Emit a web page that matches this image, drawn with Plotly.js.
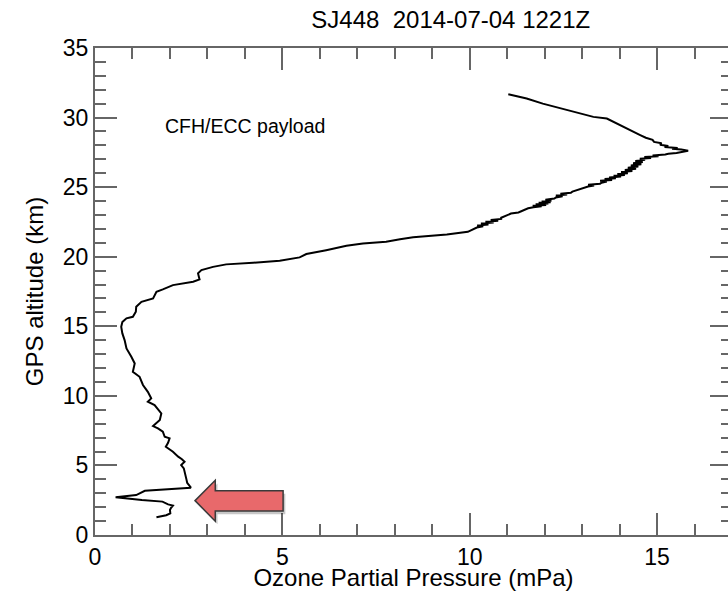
<!DOCTYPE html>
<html>
<head>
<meta charset="utf-8">
<script src="https://cdn.plot.ly/plotly-3.0.1.min.js"></script>
<style>
  html, body { margin: 0; padding: 0; background: #fff; overflow: hidden; }
  #chart { width: 740px; height: 591px; }
</style>
</head>
<body>
<div id="chart"></div>
<script>
// Ozonesonde profile SJ448, 2014-07-04 1221Z (CFH/ECC payload)
const chartTitle = 'SJ448\u00a0\u00a02014-07-04 1221Z';
const xTitle = 'Ozone Partial Pressure (mPa)';
const yTitle = 'GPS altitude (km)';
const payloadLabel = 'CFH/ECC payload';

// Ozone partial pressure (mPa), ascending order of altitude
const ozoneMPa = [
  1.64, 1.90, 2.01, 2.00, 2.03, 2.08, 1.95, 1.80, 1.25, 0.55,
  1.10, 1.26, 1.33, 2.56, 2.50, 2.46, 2.44, 2.42, 2.40, 2.37,
  2.30, 2.39, 2.32, 2.22, 2.08, 1.89, 1.95, 1.99, 1.86, 1.81,
  1.68, 1.55, 1.73, 1.77, 1.59, 1.41, 1.50, 1.41, 1.28, 1.19,
  1.01, 1.06, 0.97, 0.84, 0.79, 0.73, 0.70, 0.73, 0.79, 0.84,
  1.01, 1.09, 1.10, 1.24, 1.55, 1.64, 1.81, 2.08, 2.62, 2.79,
  2.75, 2.84, 3.15, 3.50, 4.22, 4.93, 5.46, 5.64, 6.17, 6.71,
  7.15, 7.77, 8.14, 8.49, 9.39, 9.95,
  10.19, 10.36, 10.20, 10.50, 10.30, 10.64, 10.42, 10.76, 10.56, 10.84,
  10.84, 10.93, 11.02, 11.10, 11.30, 11.40, 11.47, 11.56, 11.70, 11.92,
  11.68, 12.04, 11.76, 12.10, 11.84, 12.16, 11.92, 12.18, 12.02, 12.26,
  12.30, 12.48, 12.30, 12.60, 12.42, 12.70, 12.74, 12.84, 12.94, 13.02,
  13.16, 13.32, 13.16, 13.48, 13.52, 13.66, 13.48, 13.80, 13.60, 13.90,
  13.72, 14.04, 13.84, 14.14, 13.94, 14.22, 14.04, 14.34, 14.14, 14.44,
  14.22, 14.50, 14.30, 14.58, 14.36, 14.62, 14.42, 14.68, 14.54, 14.84,
  14.66, 15.04, 14.88, 15.22, 15.30, 15.52, 15.62, 15.83,
  15.65, 15.40, 15.55, 15.20, 15.30, 15.08, 15.12, 14.92, 14.88, 14.70,
  14.55, 14.28, 14.01, 13.84, 13.66, 13.30, 12.85, 12.41, 11.95, 11.52,
  11.03
];

// GPS altitude (km) matching each ozone value
const altitudeKm = [
  1.27, 1.42, 1.55, 1.80, 1.95, 2.12, 2.20, 2.40, 2.52, 2.72,
  2.87, 3.08, 3.18, 3.40, 3.60, 3.75, 4.00, 4.26, 4.50, 4.79,
  5.03, 5.27, 5.45, 5.63, 5.98, 6.34, 6.63, 6.95, 7.06, 7.42,
  7.66, 7.83, 8.26, 8.74, 9.34, 9.58, 9.82, 10.29, 10.78, 11.37,
  11.73, 12.33, 12.81, 13.41, 14.01, 14.49, 14.96, 15.30, 15.45, 15.57,
  15.68, 16.04, 16.40, 16.76, 17.00, 17.48, 17.65, 17.96, 18.20, 18.37,
  18.80, 19.04, 19.27, 19.45, 19.56, 19.71, 19.95, 20.19, 20.47, 20.78,
  20.95, 21.07, 21.25, 21.40, 21.60, 21.79,
  22.10, 22.18, 22.24, 22.32, 22.38, 22.45, 22.52, 22.58, 22.64, 22.72,
  22.80, 22.90, 23.00, 23.10, 23.18, 23.28, 23.38, 23.48, 23.56, 23.62,
  23.67, 23.72, 23.77, 23.82, 23.87, 23.92, 23.97, 24.03, 24.10, 24.18,
  24.26, 24.34, 24.40, 24.47, 24.53, 24.60, 24.68, 24.76, 24.86, 24.95,
  25.05, 25.12, 25.18, 25.25, 25.32, 25.40, 25.46, 25.52, 25.58, 25.64,
  25.70, 25.76, 25.82, 25.88, 25.94, 26.00, 26.08, 26.16, 26.24, 26.32,
  26.40, 26.48, 26.56, 26.64, 26.72, 26.80, 26.88, 26.96, 27.04, 27.10,
  27.16, 27.22, 27.28, 27.34, 27.40, 27.46, 27.52, 27.61,
  27.70, 27.76, 27.82, 27.88, 27.95, 28.05, 28.15, 28.25, 28.40, 28.55,
  28.74, 29.10, 29.45, 29.70, 29.93, 30.05, 30.35, 30.65, 31.00, 31.37,
  31.68
];

const FONT = 'Liberation Sans, Arial, Helvetica, sans-serif';
const AXIS_GREY = '#666666';
const X_RANGE = [0, 17];
const Y_RANGE = [0, 35];

// shared styling for the four frame axes (ticks point into the plot)
function frameAxis(extra) {
  return Object.assign({
    showline: true,
    linecolor: AXIS_GREY,
    linewidth: 2,
    ticks: 'inside',
    ticklen: 22,
    tickwidth: 2,
    tickcolor: AXIS_GREY,
    showgrid: false,
    zeroline: false,
    tick0: 0,
    dtick: 5,
    tickfont: { family: FONT, size: 23, color: '#000' },
    minor: { ticks: 'inside', dtick: 1, ticklen: 11, tickwidth: 2, tickcolor: AXIS_GREY, showgrid: false }
  }, extra);
}

const profile = {
  x: ozoneMPa,
  y: altitudeKm,
  type: 'scatter',
  mode: 'lines',
  line: { color: '#000', width: 2 },
  hoverinfo: 'skip'
};

// carrier trace so the top/right frame axes are drawn
const frameCarrier = {
  x: X_RANGE,
  y: Y_RANGE,
  xaxis: 'x2',
  yaxis: 'y2',
  type: 'scatter',
  mode: 'lines',
  line: { width: 0 },
  opacity: 0,
  hoverinfo: 'skip'
};

// Block arrow pointing at the low-level ozone dip, with an offset shadow
const arrowPath = 'M 2.67,2.47 L 3.21,3.93 L 3.21,3.18 L 5.02,3.18 L 5.02,1.72 L 3.21,1.72 L 3.21,0.99 Z';
const arrowShadowPath = 'M 2.73,2.25 L 3.27,3.71 L 3.27,2.96 L 5.08,2.96 L 5.08,1.50 L 3.27,1.50 L 3.27,0.77 Z';

const layout = {
  width: 740,
  height: 591,
  margin: { l: 95, r: 8, t: 48, b: 56 },
  paper_bgcolor: '#fff',
  plot_bgcolor: '#fff',
  showlegend: false,
  font: { family: FONT, color: '#000' },
  title: {
    text: chartTitle,
    font: { family: FONT, size: 24, color: '#000' },
    x: 0.5585, xref: 'paper', xanchor: 'center',
    y: 0.967, yanchor: 'middle'
  },
  xaxis: frameAxis({
    range: X_RANGE,
    title: { text: xTitle, font: { family: FONT, size: 24, color: '#000' }, standoff: 7 }
  }),
  yaxis: frameAxis({
    range: Y_RANGE,
    title: { text: yTitle, font: { family: FONT, size: 24, color: '#000' }, standoff: 12 }
  }),
  xaxis2: frameAxis({ range: X_RANGE, overlaying: 'x', side: 'top', showticklabels: false }),
  yaxis2: frameAxis({ range: Y_RANGE, overlaying: 'y', side: 'right', showticklabels: false }),
  annotations: [{
    text: payloadLabel,
    x: 1.81, y: 29.4, xref: 'x', yref: 'y',
    xanchor: 'left', yanchor: 'middle',
    showarrow: false,
    font: { family: FONT, size: 19.5, color: '#000' }
  }],
  shapes: [
    {
      type: 'path',
      path: arrowShadowPath,
      xref: 'x', yref: 'y',
      fillcolor: 'rgba(0,0,0,0.22)',
      line: { width: 0 },
      layer: 'above'
    },
    {
      type: 'path',
      path: arrowPath,
      xref: 'x', yref: 'y',
      fillcolor: '#e8696b',
      line: { color: '#3a3a3a', width: 1.5 },
      layer: 'above'
    }
  ]
};

Plotly.newPlot('chart', [profile, frameCarrier], layout, { displayModeBar: false, staticPlot: true });
</script>
</body>
</html>
